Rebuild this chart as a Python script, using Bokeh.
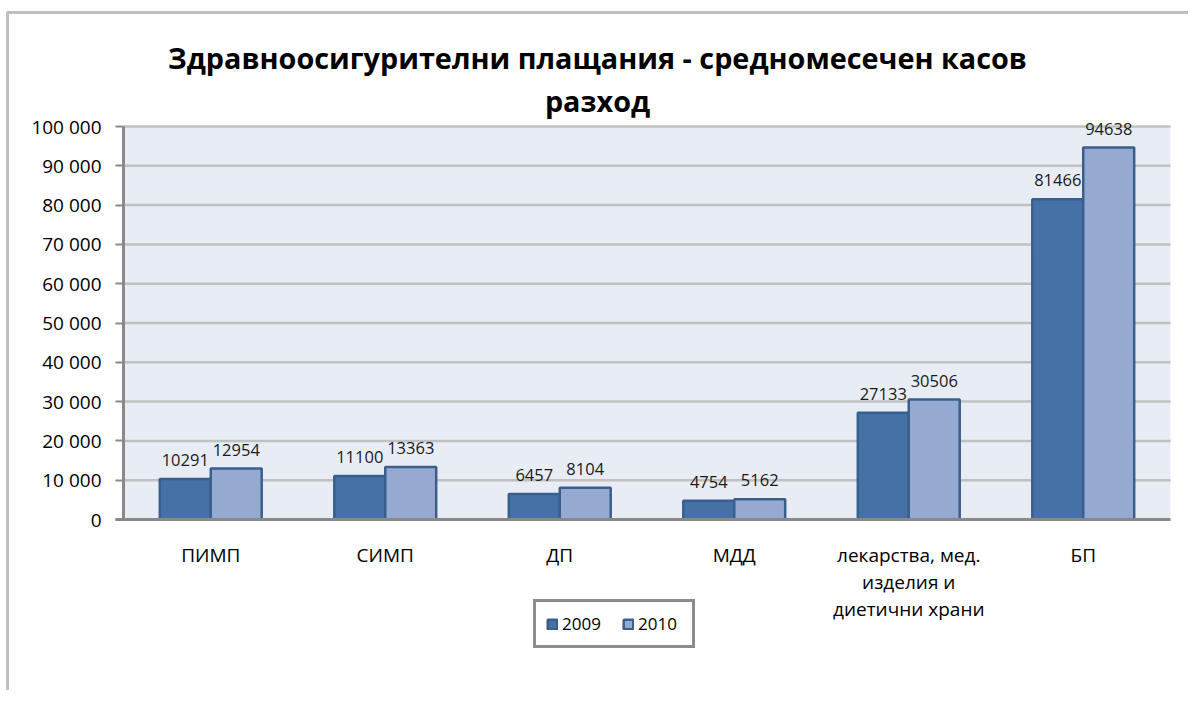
from bokeh.plotting import figure
from bokeh.models import (ColumnDataSource, Legend, LegendItem, FixedTicker,
                          BoxAnnotation, LabelSet, Label, Range1d)
from bokeh.core.properties import value
from bokeh.transform import dodge
from bokeh.embed import file_html
from bokeh.resources import INLINE

categories = ["ПИМП", "СИМП", "ДП", "МДД", "лекарства, мед.\nизделия и\nдиетични храни", "БП"]
values_2009 = [10291, 11100, 6457, 4754, 27133, 81466]
values_2010 = [12954, 13363, 8104, 5162, 30506, 94638]
series_names = ["2009", "2010"]
y_ticks = [0, 10000, 20000, 30000, 40000, 50000, 60000, 70000, 80000, 90000, 100000]
y_tick_labels = ["0", "10 000", "20 000", "30 000", "40 000", "50 000",
                 "60 000", "70 000", "80 000", "90 000", "100 000"]
title_line1 = "Здравноосигурителни плащания - средномесечен касов"
title_line2 = "разход"

FONT = "Open Sans"
C2009 = "#4671A7"
C2010 = "#95A9D1"
EDGE = "#3A5F8D"
AXIS = "#898989"

# ---- layout (pixels on the canvas) ----
CW, CH = 1188, 690
PL, PR, PT, PB = 123, 1170, 126, 519          # plot area
n = len(categories)
ymax = y_ticks[-1]
kx = n / (PR - PL)
ky = ymax / (PB - PT)
x_start, x_end = -PL * kx, n + (CW - PR) * kx
y_start, y_end = -(CH - PB) * ky, ymax + PT * ky


def x_at(px):
    return x_start + px * kx


def y_at(py):
    return y_end - py * ky


xc = [i + 0.5 for i in range(n)]
source = ColumnDataSource(data=dict(
    x=xc,
    v2009=values_2009,
    v2010=values_2010,
    l2009=[str(v) for v in values_2009],
    l2010=[str(v) for v in values_2010],
))

p = figure(width=CW, height=CH, output_backend="svg", toolbar_location=None,
           x_range=Range1d(x_start, x_end), y_range=Range1d(y_start, y_end),
           min_border=0, min_border_left=0, min_border_right=0,
           min_border_top=0, min_border_bottom=0)
p.background_fill_color = "white"
p.border_fill_color = "white"
p.outline_line_color = None
p.xgrid.grid_line_color = None
p.ygrid.grid_line_color = None

# plot area
p.add_layout(BoxAnnotation(left=0, right=n, bottom=0, top=ymax, fill_color="#E8EDF5",
                           fill_alpha=1, line_color=None, level="underlay"))
# grid lines
p.segment(x0=[0] * (len(y_ticks) - 1), x1=[n] * (len(y_ticks) - 1),
          y0=y_ticks[1:], y1=y_ticks[1:], line_color="#C0C0C0", line_width=2.5)

W = 0.292
r1 = p.vbar(x=dodge("x", -W / 2), top="v2009", width=W, source=source,
            fill_color=C2009, line_color=EDGE, line_width=2.5)
r2 = p.vbar(x=dodge("x", W / 2), top="v2010", width=W, source=source,
            fill_color=C2010, line_color=EDGE, line_width=2.5)

lab_style = dict(text_font=value(FONT), text_font_size="16.5px", text_color="#1a1a1a",
                 text_align="center", text_baseline="middle", y_offset=19, source=source)
p.add_layout(LabelSet(x=dodge("x", -W / 2), y="v2009", text="l2009", **lab_style))
p.add_layout(LabelSet(x=dodge("x", W / 2), y="v2010", text="l2010", **lab_style))

# y axis
p.yaxis.fixed_location = 0
p.yaxis.bounds = (0, ymax)
p.yaxis.ticker = FixedTicker(ticks=y_ticks)
p.yaxis.major_label_overrides = {t: s for t, s in zip(y_ticks, y_tick_labels)}
p.yaxis.minor_tick_line_color = None
p.yaxis.major_tick_in = 0
p.yaxis.major_tick_out = 8
p.yaxis.major_tick_line_color = AXIS
p.yaxis.major_tick_line_width = 2
p.yaxis.axis_line_color = AXIS
p.yaxis.axis_line_width = 3
p.yaxis.major_label_text_font = FONT
p.yaxis.major_label_text_font_size = "19px"
p.yaxis.major_label_text_color = "black"
p.yaxis.major_label_standoff = 14

# x axis
p.xaxis.fixed_location = 0
p.xaxis.bounds = (x_at(PL - 8), n)
p.xaxis.ticker = FixedTicker(ticks=xc)
p.xaxis.major_label_overrides = {x: c for x, c in zip(xc, categories)}
p.xaxis.major_tick_line_color = None
p.xaxis.minor_tick_line_color = None
p.xaxis.axis_line_color = AXIS
p.xaxis.axis_line_width = 3
p.xaxis.major_label_text_font = FONT
p.xaxis.major_label_text_font_size = "19px"
p.xaxis.major_label_text_color = "black"
p.xaxis.major_label_standoff = 16
p.xaxis.major_label_text_line_height = 1.05

# title
tstyle = dict(text_font=FONT, text_font_size="28.8px", text_font_style="bold",
              text_color="black", text_align="center", text_baseline="middle")
p.add_layout(Label(x=x_at(597), y=y_at(57), text=title_line1, **tstyle))
p.add_layout(Label(x=x_at(597), y=y_at(100), text=title_line2, **tstyle))

# legend
legend = Legend(items=[LegendItem(label=series_names[0], renderers=[r1]),
                       LegendItem(label=series_names[1], renderers=[r2])],
                orientation="horizontal", location=(533, CH - 648),
                label_text_font=FONT, label_text_font_size="17px", label_text_color="black",
                glyph_width=12, glyph_height=12, label_standoff=4, spacing=16, label_width=44,
                padding=10, margin=0, border_line_color="#8C8C8C", border_line_width=3,
                border_line_alpha=1,
                background_fill_color="white", background_fill_alpha=1)
p.add_layout(legend)

# outer chart border (only left and top edges are inside the picture)
p.add_layout(BoxAnnotation(left=x_at(7), right=x_end + 1, top=y_at(12), bottom=y_start - ymax,
                           fill_alpha=0, line_color="#BFBFBF", line_width=3, line_alpha=1,
                           level="overlay"))

open("out.html", "w").write(file_html(p, INLINE))
